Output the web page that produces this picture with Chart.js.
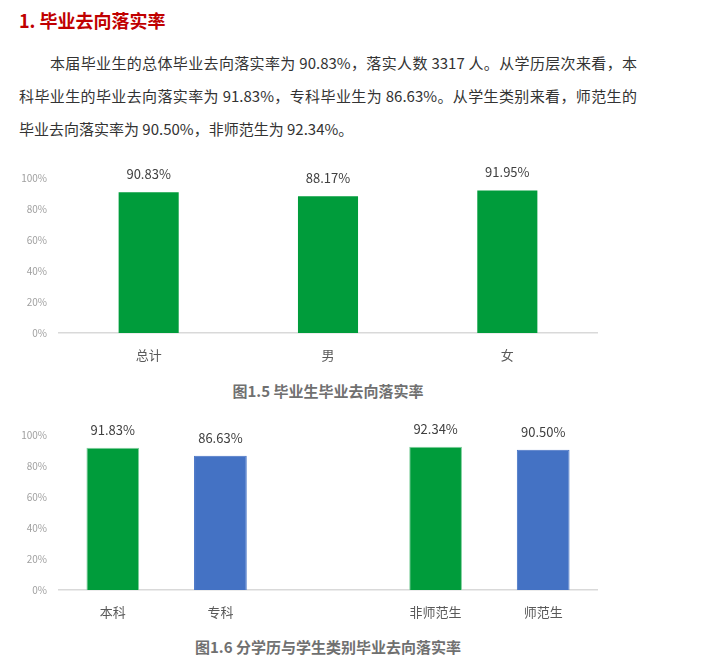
<!DOCTYPE html>
<html>
<head>
<meta charset="utf-8">
<script src="https://cdn.jsdelivr.net/npm/chart.js@4/dist/chart.umd.min.js"></script>
<style>
    body { margin: 0; background: #fff; width: 707px; height: 660px; position: relative; overflow: hidden;
           font-family: "Noto Sans CJK SC", "Noto Sans", sans-serif; }
    h1 { position: absolute; left: 19px; top: 8px; margin: 0; font-size: 18px; line-height: 24px; color: #c00000; font-weight: bold; }
    .para { position: absolute; left: 19px; top: 46px; width: 618px; font-size: 15px; color: #333; }
    .para div { height: 33px; line-height: 33px; text-align: justify; text-align-last: justify; }
    .para div.first { text-indent: 31px; }
    .para div.last { text-align-last: left; }
    canvas { position: absolute; left: 0; }
    .caption { position: absolute; width: 656px; left: 0; text-align: center; font-size: 15px; font-weight: bold; color: #707070; line-height: 20px; }
</style>
</head>
<body>
<h1>1. 毕业去向落实率</h1>
<div class="para">
    <div class="first">本届毕业生的总体毕业去向落实率为 90.83%，落实人数 3317 人。从学历层次来看，本</div>
    <div>科毕业生的毕业去向落实率为 91.83%，专科毕业生为 86.63%。从学生类别来看，师范生的</div>
    <div class="last">毕业去向落实率为 90.50%，非师范生为 92.34%。</div>
</div>

<canvas id="chart1" width="620" height="215" style="top:160px"></canvas>
<div class="caption" style="top:381px">图1.5 毕业生毕业去向落实率</div>

<canvas id="chart2" width="620" height="220" style="top:410px"></canvas>
<div class="caption" style="top:637px">图1.6 分学历与学生类别毕业去向落实率</div>

<script>
// --- Data ---
const genderLabels = ['总计', '男', '女'];
const genderRates = [90.83, 88.17, 91.95];

const groupLabels = ['本科', '专科', '', '非师范生', '师范生'];
const groupRates = [91.83, 86.63, null, 92.34, 90.50];

const yTickStep = 20;
const yMax = 100;

const GREEN = '#009c3b';
const BLUE = '#4472c4';

Chart.defaults.font.family = '"Noto Sans CJK SC", "Noto Sans", sans-serif';

// value labels above each bar
const valueLabels = {
    id: 'valueLabels',
    afterDatasetsDraw(chart) {
        const ctx = chart.ctx;
        const ds = chart.data.datasets[0];
        ctx.save();
        ctx.font = '13px "Noto Sans CJK SC", "Noto Sans", sans-serif';
        ctx.fillStyle = '#404040';
        ctx.textAlign = 'center';
        ctx.textBaseline = 'middle';
        chart.getDatasetMeta(0).data.forEach((bar, i) => {
            const v = ds.data[i];
            if (v == null) return;
            ctx.fillText(v.toFixed(2) + '%', bar.x, bar.y - 18);
        });
        ctx.restore();
    }
};

function makeChart(id, labels, values, colors, opts) {
    return new Chart(document.getElementById(id), {
        type: 'bar',
        data: {
            labels: labels,
            datasets: [{
                data: values,
                backgroundColor: colors,
                borderColor: opts.borderColors || colors,
                borderWidth: opts.borderColors ? 1 : 0,
                barPercentage: opts.barPct,
                categoryPercentage: 1
            }]
        },
        options: {
            responsive: false,
            animation: false,
            layout: { padding: { top: opts.top, right: 23, left: 0, bottom: 0 } },
            plugins: { legend: { display: false }, tooltip: { enabled: false } },
            scales: {
                x: {
                    grid: { display: false },
                    border: { display: true, color: '#d9d9d9', width: 1.5 },
                    ticks: { color: '#595959', font: { size: 13 }, padding: 6 },
                    afterFit: s => { s.height = opts.xHeight; }
                },
                y: {
                    min: 0,
                    max: yMax,
                    grid: { display: false, drawTicks: false },
                    border: { display: false },
                    ticks: { stepSize: yTickStep, color: '#a0a0a0', font: { size: 10 }, padding: 12,
                             callback: v => v + '%' },
                    afterFit: s => { s.width = 59; }
                }
            }
        },
        plugins: [valueLabels]
    });
}

// plot area: 178..333 in chart 1, 435..590 in chart 2
makeChart('chart1', genderLabels, genderRates, genderLabels.map(() => GREEN),
    { top: 18, xHeight: 42, barPct: 0.335 });

makeChart('chart2', groupLabels, groupRates, [GREEN, BLUE, GREEN, GREEN, BLUE],
    { top: 25, xHeight: 40, barPct: 0.49,
      borderColors: ['#7fcf9d', BLUE, GREEN, '#7fcf9d', BLUE] });
</script>
</body>
</html>
